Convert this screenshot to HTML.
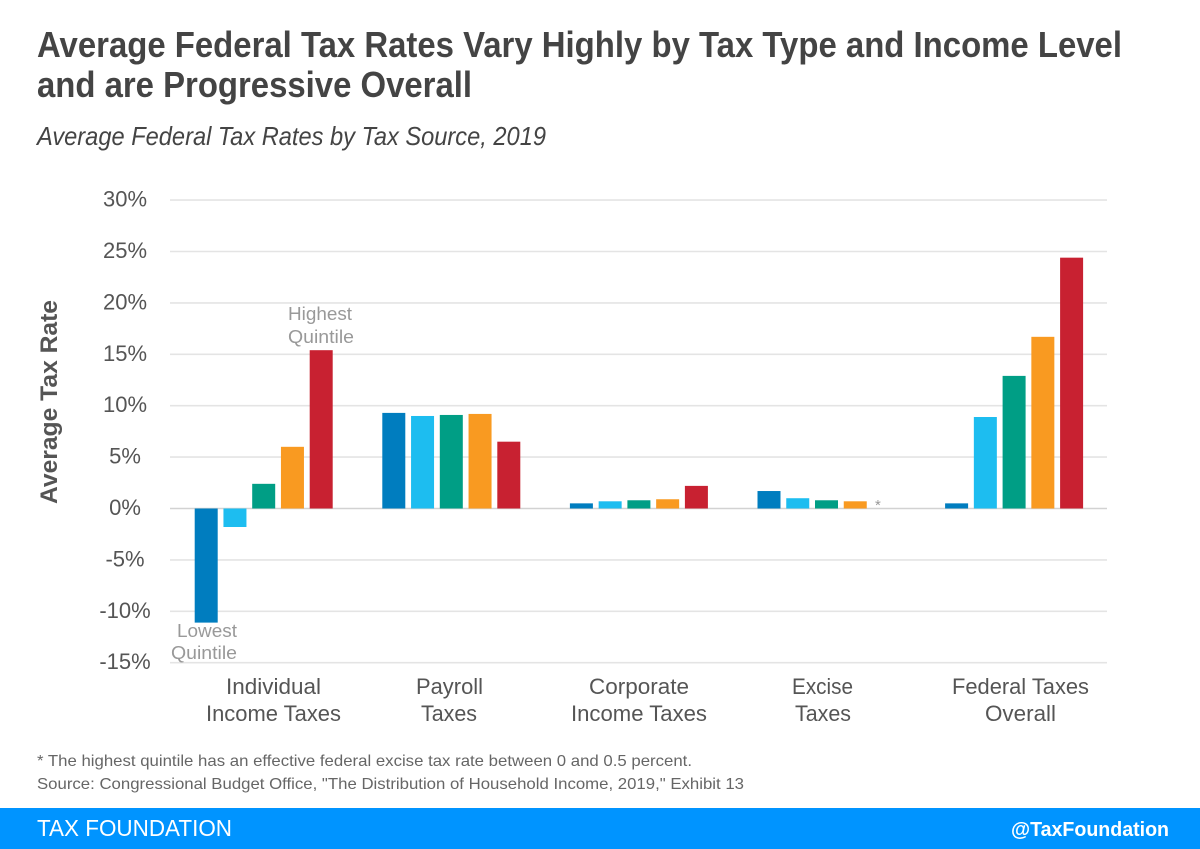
<!DOCTYPE html>
<html lang="en">
<head>
<meta charset="utf-8">
<title>Average Federal Tax Rates</title>
<style>
html,body{margin:0;padding:0;background:#fff;}
svg{display:block;font-family:"Liberation Sans",sans-serif;}
</style>
</head>
<body>
<svg id="chart" width="1200" height="849" viewBox="0 0 1200 849" xmlns="http://www.w3.org/2000/svg">
  <rect x="0" y="0" width="1200" height="849" fill="#fff"/>
  <text x="37" y="57" font-size="36" font-weight="700" fill="#444" textLength="1085" lengthAdjust="spacingAndGlyphs">Average Federal Tax Rates Vary Highly by Tax Type and Income Level</text>
  <text x="37" y="97" font-size="36" font-weight="700" fill="#444" textLength="435" lengthAdjust="spacingAndGlyphs">and are Progressive Overall</text>
  <text x="37" y="145" font-size="26" font-style="italic" fill="#444" textLength="509" lengthAdjust="spacingAndGlyphs">Average Federal Tax Rates by Tax Source, 2019</text>
  <text transform="translate(57,504) rotate(-90)" font-size="24" font-weight="700" fill="#555" textLength="204" lengthAdjust="spacingAndGlyphs">Average Tax Rate</text>

  <g id="grid"></g>
  <g id="ticks"></g>
  <g id="bars"></g>

  <g font-size="22" fill="#555">
    <text x="226" y="694" textLength="95" lengthAdjust="spacingAndGlyphs">Individual</text>
    <text x="206" y="721" textLength="135" lengthAdjust="spacingAndGlyphs">Income Taxes</text>
    <text x="416" y="694" textLength="67" lengthAdjust="spacingAndGlyphs">Payroll</text>
    <text x="421" y="721" textLength="56" lengthAdjust="spacingAndGlyphs">Taxes</text>
    <text x="589" y="694" textLength="100" lengthAdjust="spacingAndGlyphs">Corporate</text>
    <text x="571" y="721" textLength="136" lengthAdjust="spacingAndGlyphs">Income Taxes</text>
    <text x="792" y="694" textLength="61" lengthAdjust="spacingAndGlyphs">Excise</text>
    <text x="795" y="721" textLength="56" lengthAdjust="spacingAndGlyphs">Taxes</text>
    <text x="952" y="694" textLength="137" lengthAdjust="spacingAndGlyphs">Federal Taxes</text>
    <text x="985" y="721" textLength="71" lengthAdjust="spacingAndGlyphs">Overall</text>
  </g>

  <g font-size="18" fill="#999">
    <text x="288" y="320" textLength="64" lengthAdjust="spacingAndGlyphs">Highest</text>
    <text x="288" y="343" textLength="66" lengthAdjust="spacingAndGlyphs">Quintile</text>
    <text x="177" y="637" textLength="60" lengthAdjust="spacingAndGlyphs">Lowest</text>
    <text x="171" y="659" textLength="66" lengthAdjust="spacingAndGlyphs">Quintile</text>
    <text x="875" y="510" font-size="15">*</text>
  </g>

  <text x="37" y="766" font-size="16" fill="#666" textLength="655" lengthAdjust="spacingAndGlyphs">* The highest quintile has an effective federal excise tax rate between 0 and 0.5 percent.</text>
  <text x="37" y="789" font-size="16" fill="#666" textLength="707" lengthAdjust="spacingAndGlyphs">Source: Congressional Budget Office, "The Distribution of Household Income, 2019," Exhibit 13</text>

  <rect x="0" y="808" width="1200" height="41" fill="#0094ff"/>
  <text x="37" y="836" font-size="23" fill="#fff" textLength="195" lengthAdjust="spacingAndGlyphs">TAX FOUNDATION</text>
  <text x="1011" y="836" font-size="20" font-weight="700" fill="#fff" textLength="158" lengthAdjust="spacingAndGlyphs">@TaxFoundation</text>
</svg>
<script>
const categories = ["Individual Income Taxes", "Payroll Taxes", "Corporate Income Taxes", "Excise Taxes", "Federal Taxes Overall"];
const quintiles = ["lowest", "second", "middle", "fourth", "highest"];
const lowestValues = [-11.1, 9.3, 0.5, 1.7, 0.5];
const secondValues = [-1.8, 9.0, 0.7, 1.0, 8.9];
const middleValues = [2.4, 9.1, 0.8, 0.8, 12.9];
const fourthValues = [6.0, 9.2, 0.9, 0.7, 16.7];
const highestValues = [15.4, 6.5, 2.2, null, 24.4];
const tickValues = [30, 25, 20, 15, 10, 5, 0, -5, -10, -15];
const quintileColors = ["#007dbf", "#1dbdf0", "#009e85", "#f99a21", "#c82131"];

const seriesValues = [lowestValues, secondValues, middleValues, fourthValues, highestValues];
const NS = "http://www.w3.org/2000/svg";
const gridLayer = document.getElementById("grid");
const tickLayer = document.getElementById("ticks");
const barLayer = document.getElementById("bars");

function yScale(v) {
  return 508.5 - v * 10.28;
}
function xScale(groupIndex, seriesIndex) {
  return 194.7 + groupIndex * 187.6 + seriesIndex * 28.75;
}
const barWidth = 23;

tickValues.forEach(function (t) {
  const line = document.createElementNS(NS, "line");
  
  
  line.setAttribute("x1", 170);
  line.setAttribute("x2", 1107);
  line.setAttribute("y1", yScale(t));
  line.setAttribute("y2", yScale(t));
  line.setAttribute("stroke", t === 0 ? "#d2d2d2" : "#e4e4e4");
  line.setAttribute("stroke-width", 1.6);
  gridLayer.appendChild(line);

  const label = document.createElementNS(NS, "text");
  
  
  label.setAttribute("x", 125);
  label.setAttribute("y", yScale(t) + 6.5);
  label.setAttribute("text-anchor", "middle");
  label.setAttribute("font-size", 22);
  label.setAttribute("fill", "#555");
  label.textContent = t + "%";
  tickLayer.appendChild(label);
});

seriesValues.forEach(function (values, s) {
  values.forEach(function (v, g) {
    if (v === null) return;
    const rect = document.createElementNS(NS, "rect");
    
    
    rect.setAttribute("aria-label", categories[g] + " " + quintiles[s] + " quintile: " + v + "%");
    const top = yScale(Math.max(v, 0));
    const bottom = yScale(Math.min(v, 0));
    rect.setAttribute("x", xScale(g, s));
    rect.setAttribute("y", top);
    rect.setAttribute("width", barWidth);
    rect.setAttribute("height", bottom - top);
    rect.setAttribute("fill", quintileColors[s]);
    barLayer.appendChild(rect);
  });
});
</script>
</body>
</html>
